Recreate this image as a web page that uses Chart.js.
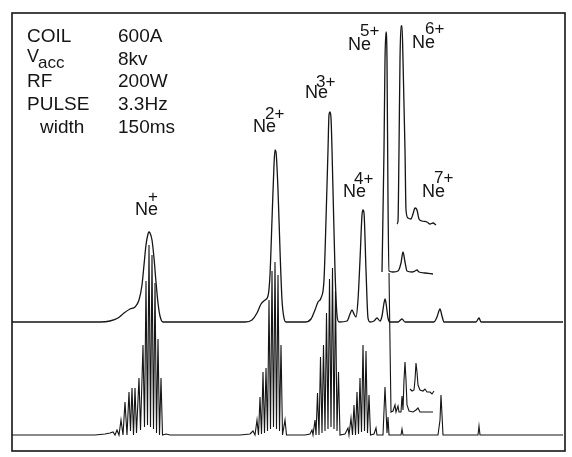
<!DOCTYPE html>
<html lang="en">
<head>
    <meta charset="UTF-8">
    <title>Ne charge state spectrum</title>
    <script src="https://cdn.jsdelivr.net/npm/chart.js"></script>
    <style>
        body { margin: 0; background: #fff; }
        #spectrum { display: block; }
    </style>
</head>
<body>
    <canvas id="spectrum" width="572" height="457"></canvas>

    <script>
        // operating conditions printed in the corner
        const settingNames = ['COIL', 'V', 'RF', 'PULSE', 'width'];
        const settingValues = ['600A', '8kv', '200W', '3.3Hz', '150ms'];

        // charge states marked over the peaks
        const ionCharges = ['+', '2+', '3+', '4+', '5+', '6+', '7+'];

        // x = flight time (channel), y = signal (arbitrary, traces are offset)
        // upper trace: envelope
        const upperTrace = [
            [0,129],[88,129],[98,130],[106,133],[112,138],[118,142],[123,144],[127,151],[130,166],[132,186],
            [134,206],[136,217],[137,219],[138,218],[140,211],[142,193],[144,169],[146,148],[148,135],[151,129],
            [233,129],[240,131],[245,138],[249,147],[253,151],[256,155],[258,176],[260,231],[262,286],[263,301],
            [264,299],[266,261],[268,201],[270,151],[272,133],[274,129],
            [293,129],[299,132],[303,141],[306,149],[309,153],[312,171],[314,231],[316,301],[317,336],[318,339],
            [319,333],[321,261],[323,181],[325,136],[327,129],
            [335,130],[338,137],[340,141],[342,137],[344,134],[346,151],[348,191],[350,236],[351,241],[352,238],
            [354,181],[356,133],[358,129],[362,130],[365,133],[368,130],[370,135],[372,148],[373,152],[374,148],
            [376,133],[378,129],[386,129],[390,132],[393,129],[422,129],[425,134],[428,142],[430,135],[432,129],
            [464,129],[467,133],[469,129],[551,129]
        ];
        // upper trace, Ne5+ window (offset)
        const upperNe5 = [
            [370,179],[372,301],[373,391],[374,419],[375,391],[376,251],[377,180],[381,179],[386,180],[389,188],
            [391,199],[393,189],[395,180],[400,179],[403,180],[405,181],[407,179],[413,178],[421,177]
        ];
        // upper trace, Ne6+ window (offset)
        const upperNe6 = [
            [385,227],[386,230],[387,301],[388,391],[389,425],[390,425],[391,391],[393,301],[394,241],[396,233],
            [399,232],[401,237],[403,243],[405,241],[407,232],[410,230],[415,229],[418,227],[421,228],[424,226]
        ];

        // lower trace: resolved pulses
        const lowerTrace = [
            [0,16],[83,16],[93,17],[98,18],[101,19],[103,16],[105,21],[107,16],[109,31],[111,16],
            [113,49],[115,16],[117,59],[118.5,20],[120,63],[121.5,16],[123,63],[124.5,18],[127,73],[128.5,21],
            [131,106],[132.5,24],[134,170],[135.5,26],[137,206],[138.5,24],[140,196],[141.5,22],[143,168],[144.5,18],
            [146,112],[147.5,16],[149,73],[150.5,16],[154,17],[158,16],
            [228,16],[238,17],[241,20],[243,16],[245,31],[246.5,16],[248,54],[249.5,17],[251,79],[252.5,18],
            [254,83],[255.5,20],[257,151],[258.5,22],[260,180],[261.5,24],[263,189],[264.5,22],[266,176],[267.5,20],
            [269,106],[270.5,16],[273,31],[274.5,16],[277,16],
            [293,16],[298,17],[300,21],[301,16],[303,31],[304,16],[305.5,58],[307,16],[308.5,94],[310,18],
            [311.5,106],[313,20],[314.5,138],[316,22],[317.5,172],[319,24],[320.5,183],[322,22],[323.5,160],[325,20],
            [326.5,79],[328,16],[333,17],
            [336,23],[337,16],[339,33],[340.5,16],[342,46],[343.5,16],[345,59],[346.5,17],[348,73],[349.5,19],
            [351,106],[352.5,20],[354,100],[355.5,18],[357,56],[358.5,16],[362,17],[364,23],
            [365,16],[371,16],[373,64],[375,18],[376,34],[377,16],[389,16],[390,22],[391,16],
            [426,16],[428,31],[429,56],[430,36],[431,16],[466,16],[467,25],[468,16],[551,16]
        ];
        // lower trace, Ne6+ window (offset)
        const lowerNe6 = [
            [377,178],[379,39],[381,40],[383,46],[384,39],[386,45],[387,39],[389,39],[390,55],[391,41],
            [392,71],[393,89],[394,71],[395,46],[397,40],[401,39],[404,41],[406,43],[408,39],[421,39]
        ];
        // lower trace, Ne7+ window (offset)
        const lowerNe7 = [
            [398,62],[400,60],[402,61],[403,71],[404,88],[405,79],[406,66],[408,61],[411,60],[413,62],
            [415,59],[418,59],[420,57],[422,60]
        ];

        const toPoints = arr => arr.map(p => ({ x: p[0], y: p[1] }));

        const ink = '#151515';
        const FONT = '"Liberation Sans", "DejaVu Sans", sans-serif';

        // frame around the plot
        const framePlugin = {
            id: 'frame',
            afterDraw(chart) {
                const a = chart.chartArea;
                const c = chart.ctx;
                c.save();
                c.strokeStyle = ink;
                c.lineWidth = 1.6;
                c.strokeRect(a.left, a.top, a.right - a.left, a.bottom - a.top);
                c.restore();
            }
        };

        // settings block and ion labels
        const textPlugin = {
            id: 'texts',
            afterDraw(chart) {
                const c = chart.ctx;
                c.save();
                c.fillStyle = ink;
                c.textBaseline = 'alphabetic';
                c.textAlign = 'left';

                const rows = [42, 65, 87, 110, 133];
                settingNames.forEach((name, i) => {
                    c.font = '19px ' + FONT;
                    if (name === 'V') {
                        c.font = '18px ' + FONT;
                        c.fillText('V', 27, 62);
                        c.font = '17px ' + FONT;
                        c.fillText('acc', 38, 68);
                    } else {
                        c.fillText(name, name === 'width' ? 40 : 27, rows[i]);
                    }
                    c.font = '19px ' + FONT;
                    c.fillText(settingValues[i], 118, rows[i]);
                });

                // [Ne left, Ne baseline, charge left, charge baseline]
                const spots = [
                    [135, 215, 148, 202],
                    [253, 132, 265, 119],
                    [305, 98, 316, 87],
                    [343, 197, 354, 184],
                    [348, 50, 360, 36],
                    [412, 48, 425, 34],
                    [422, 197, 434, 183]
                ];
                ionCharges.forEach((q, i) => {
                    const s = spots[i];
                    c.font = '18px ' + FONT;
                    c.fillText('Ne', s[0], s[1]);
                    c.font = '17px ' + FONT;
                    c.fillText(q, s[2], s[3]);
                });
                c.restore();
            }
        };

        const traceStyle = {
            borderColor: ink,
            borderWidth: 1.3,
            pointRadius: 0,
            fill: false
        };

        new Chart(document.getElementById('spectrum').getContext('2d'), {
            type: 'line',
            data: {
                datasets: [
                    { ...traceStyle, label: 'upper', data: toPoints(upperTrace), cubicInterpolationMode: 'monotone' },
                    { ...traceStyle, label: 'upper Ne5+', data: toPoints(upperNe5), cubicInterpolationMode: 'monotone' },
                    { ...traceStyle, label: 'upper Ne6+', data: toPoints(upperNe6), cubicInterpolationMode: 'monotone' },
                    { ...traceStyle, label: 'lower', data: toPoints(lowerTrace), borderWidth: 1.1 },
                    { ...traceStyle, label: 'lower Ne6+', data: toPoints(lowerNe6), borderWidth: 1.1 },
                    { ...traceStyle, label: 'lower Ne7+', data: toPoints(lowerNe7), borderWidth: 1.1 }
                ]
            },
            options: {
                responsive: false,
                animation: false,
                layout: { padding: { left: 12, right: 7, top: 13, bottom: 6 } },
                scales: {
                    x: { type: 'linear', min: 0, max: 553, display: false },
                    y: { min: 0, max: 438, display: false }
                },
                plugins: {
                    legend: { display: false },
                    tooltip: { enabled: false }
                }
            },
            plugins: [framePlugin, textPlugin]
        });
    </script>
</body>
</html>
